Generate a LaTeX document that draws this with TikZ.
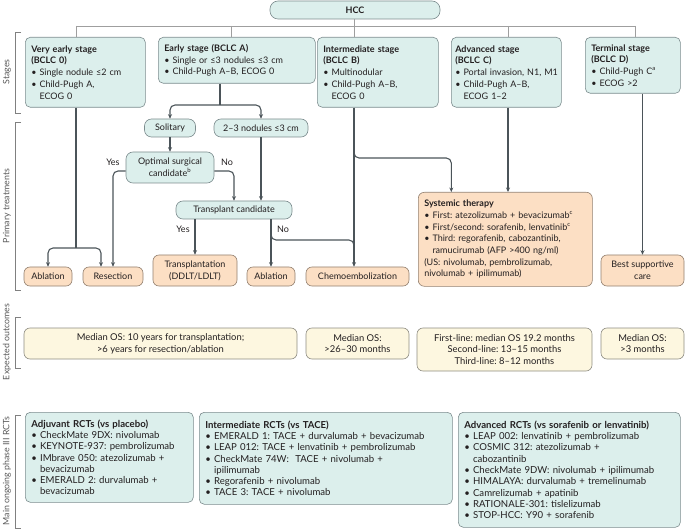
\documentclass[tikz,border=0pt]{standalone}
\usepackage{fontspec}
\setmainfont{Lato}
\usetikzlibrary{arrows.meta,calc}
\definecolor{tealfill}{HTML}{DCEFEC}
\definecolor{tealline}{HTML}{7C8C8E}
\definecolor{orgfill}{HTML}{FCDFC4}
\definecolor{orgline}{HTML}{93806F}
\definecolor{yelfill}{HTML}{FDF7E0}
\definecolor{yelline}{HTML}{8E8C82}
\definecolor{linkcol}{HTML}{4B5459}
\definecolor{txt}{HTML}{231F20}
\newcommand{\bitem}{\textbullet\ }
\newcommand{\bcont}{\hphantom{\textbullet\ }}
\frenchspacing
\begin{document}
\begin{tikzpicture}[x=1pt, y=-1pt, text=txt,
  base/.style = {rounded corners=5pt, line width=0.6pt, inner xsep=6pt, inner ysep=3pt, font=\fontsize{9}{11.7}\selectfont},
  stage/.style = {base, draw=tealline, fill=tealfill, align=left, anchor=north west},
  ask/.style = {base, draw=tealline, fill=tealfill, align=center, rounded corners=7pt},
  treat/.style = {base, draw=orgline, fill=orgfill, align=center, rounded corners=6pt},
  outc/.style = {base, draw=yelline, fill=yelfill, align=center, rounded corners=6pt, font=\fontsize{9.4}{11.7}\selectfont},
  trial/.style = {stage, font=\fontsize{9.6}{11.3}\selectfont},
  link/.style = {draw=linkcol, line width=1.1pt, rounded corners=5pt},
  arr/.style = {link, -{Stealth[length=4.5pt, width=4pt]}},
  arrs/.style = {link, {Stealth[length=4.5pt, width=4pt]}-{Stealth[length=4.5pt, width=4pt]}},
  bus/.style = {draw=gray!75, line width=0.6pt},
  brk/.style = {draw=gray, line width=0.5pt},
  lbl/.style = {font=\fontsize{9}{10}\selectfont},
  side/.style = {rotate=90, text=black!65, font=\fontsize{8.8}{10}\selectfont}
]
\useasboundingbox (0,0) rectangle (685,529);

% stages
\node[ask, rounded corners=8pt, minimum width=170pt, minimum height=18pt, font=\fontsize{9}{11.7}\selectfont\bfseries] (hcc) at (355,10) {HCC};
\node[stage, text width=108pt, minimum height=70pt] (veb) at (25,37) {\textbf{Very early stage}\\\textbf{(BCLC 0)}\\\bitem Single nodule ≤2 cm\\\bitem Child-Pugh A,\\\bcont ECOG 0};
\node[stage, text width=145pt, minimum height=46pt] (eb) at (158,37) {\textbf{Early stage (BCLC A)}\\\bitem Single or ≤3 nodules ≤3 cm\\\bitem Child-Pugh A–B, ECOG 0};
\node[stage, text width=109pt, minimum height=70pt] (ib) at (317,37) {\textbf{Intermediate stage}\\\textbf{(BCLC B)}\\\bitem Multinodular\\\bitem Child-Pugh A–B,\\\bcont ECOG 0};
\node[stage, inner xsep=4pt, text width=102pt, minimum height=70pt] (ab) at (451,37) {\textbf{Advanced stage}\\\textbf{(BCLC C)}\\\mbox{\bitem Portal invasion, N1, M1}\\\bitem Child-Pugh A–B,\\\bcont ECOG 1–2};
\node[stage, text width=83pt, minimum height=56pt] (tb) at (585,37) {\textbf{Terminal stage}\\\textbf{(BCLC D)}\\\bitem Child-Pugh C\textsuperscript{a}\\\bitem ECOG >2};

\coordinate (c1) at (76,26);
\coordinate (c2) at (231,26);
\coordinate (c3) at (354,26);
\coordinate (c4) at (508,26);
\coordinate (c5) at (635,26);
\draw[bus] (c1) -- (c5);
\draw[bus] (hcc.south -| c3) -- (c3);
\draw[bus] (c1) -- (c1 |- veb.north);
\draw[bus] (c2) -- (c2 |- eb.north);
\draw[bus] (c3) -- (c3 |- ib.north);
\draw[bus] (c4) -- (c4 |- ab.north);
\draw[bus] (c5) -- (c5 |- tb.north);

% decisions
\node[ask, minimum width=51pt, minimum height=18pt] (sol) at (170,128) {Solitary};
\node[ask, minimum width=94pt, minimum height=18pt] (nod) at (261,128) {2–3 nodules ≤3 cm};
\node[ask, minimum width=88pt, minimum height=31pt] (osc) at (170,167.5) {Optimal surgical\\candidate\textsuperscript{b}};
\node[ask, minimum width=116pt, minimum height=18pt] (tc) at (234,210) {Transplant candidate};

% treatments
\node[treat, minimum width=48pt, minimum height=19pt] (abl1) at (48,276.5) {Ablation};
\node[treat, minimum width=60pt, minimum height=19pt] (res) at (113,276.5) {Resection};
\node[treat, minimum width=84pt, minimum height=31pt] (tpl) at (195,270.5) {Transplantation\\(DDLT/LDLT)};
\node[treat, minimum width=48pt, minimum height=19pt] (abl2) at (271,276.5) {Ablation};
\node[treat, minimum width=103pt, minimum height=19pt] (chemo) at (357.5,276.5) {Chemoembolization};
\node[treat, anchor=north west, align=left, text width=162pt, minimum height=94pt] (sys) at (418,192) {\textbf{Systemic therapy}\\\bitem First: atezolizumab + bevacizumab\textsuperscript{c}\\\bitem First/second: sorafenib, lenvatinib\textsuperscript{c}\\\bitem Third: regorafenib, cabozantinib,\\\bcont ramucirumab (AFP >400 ng/ml)\\(US: nivolumab, pembrolizumab,\\nivolumab + ipilimumab)};
\node[treat, minimum width=83pt, minimum height=31pt] (bsc) at (642.5,270.5) {Best supportive\\care};

% connectors
\coordinate (j1) at (76,248);
\coordinate (j2) at (220,105);
\coordinate (j3) at (354,252);
\coordinate (j4) at (354,158);
\draw[link] (c1 |- veb.south) -- (j1);
\draw[arrs] (abl1.north) |- (j1) -| ([xshift=-12pt]res.north);
\draw[link] (j2 |- eb.south) -- (j2);
\draw[arrs] (sol.north) |- (j2) -| (nod.north);
\draw[arr] (sol.south) -- (osc.north);
\draw[arr] ([yshift=-3.5pt]osc.west) -| (res.north);
\draw[arr] ([yshift=-3.5pt]osc.east) -| (tc.north);
\draw[arr] (nod.south) -- (nod.south |- tc.north);
\draw[arr] (tpl.north |- tc.south) -- (tpl.north);
\draw[arr] (abl2.north |- tc.south) -- (abl2.north);
\draw[link] (abl2.north |- tc.south) |- ([yshift=12pt]j3) -- (j3);
\draw[arr] (c3 |- ib.south) -- (c3 |- chemo.north);
\draw[arr] ([yshift=6pt]j4) -- (j4) -| ([xshift=-54pt]sys.north);
\draw[arr] (c4 |- ab.south) -- (c4 |- sys.north);
\draw[arr] (bsc.north |- tb.south) -- (bsc.north);
\node[lbl] (y1) at (113,162) {Yes};
\node[lbl] (n1) at (227,162) {No};
\node[lbl] (y2) at (183,229) {Yes};
\node[lbl] (n2) at (283,229) {No};

% outcomes
\node[outc, minimum width=273pt, minimum height=31pt] (o1) at (160.5,343.5) {Median OS: 10 years for transplantation;\\>6 years for resection/ablation};
\node[outc, minimum width=103pt, minimum height=31pt] (o2) at (357.5,343.5) {Median OS:\\>26–30 months};
\node[outc, minimum width=175pt, minimum height=43pt] (o3) at (504.5,349.5) {First-line: median OS 19.2 months\\Second-line: 13–15 months\\Third-line: 8–12 months};
\node[outc, minimum width=83pt, minimum height=31pt] (o4) at (642.5,343.5) {Median OS:\\>3 months};

% trials
\node[trial, text width=156pt, minimum height=90pt] (r1) at (25,412) {\textbf{Adjuvant RCTs (vs placebo)}\\\bitem CheckMate 9DX: nivolumab\\\bitem KEYNOTE-937: pembrolizumab\\\bitem IMbrave 050: atezolizumab +\\\bcont bevacizumab\\\bitem EMERALD 2: durvalumab +\\\bcont bevacizumab};
\node[trial, text width=241pt, minimum height=92pt] (r2) at (199,412) {\textbf{Intermediate RCTs (vs TACE)}\\\bitem EMERALD 1: TACE + durvalumab + bevacizumab\\\bitem LEAP 012: TACE + lenvatinib + pembrolizumab\\\bitem CheckMate 74W:\ \ TACE + nivolumab +\\\bcont ipilimumab\\\bitem Regorafenib + nivolumab\\\bitem TACE 3: TACE + nivolumab};
\node[trial, text width=210pt, minimum height=115pt] (r3) at (458,412) {\textbf{Advanced RCTs (vs sorafenib or lenvatinib)}\\\bitem LEAP 002: lenvatinib + pembrolizumab\\\bitem COSMIC 312: atezolizumab +\\\bcont cabozantinib\\\bitem CheckMate 9DW: nivolumab + ipilimumab\\\bitem HIMALAYA: durvalumab + tremelinumab\\\bitem Camrelizumab + apatinib\\\bitem RATIONALE-301: tislelizumab\\\bitem STOP-HCC: Y90 + sorafenib};

% side brackets
\draw[brk] (21,32) -- (15,32) -- (15,113) -- (21,113);
\draw[brk] (21,122) -- (15,122) -- (15,290) -- (21,290);
\draw[brk] (21,317) -- (15,317) -- (15,368) -- (21,368);
\draw[brk] (21,415) -- (15,415) -- (15,528) -- (21,528);
\node[side] (s1) at (7,72) {Stages};
\node[side] (s2) at (7,206) {Primary treatments};
\node[side] (s3) at (7,342) {Expected outcomes};
\node[side] (s4) at (7,471) {Main ongoing phase III RCTs};
\end{tikzpicture}
\end{document}
